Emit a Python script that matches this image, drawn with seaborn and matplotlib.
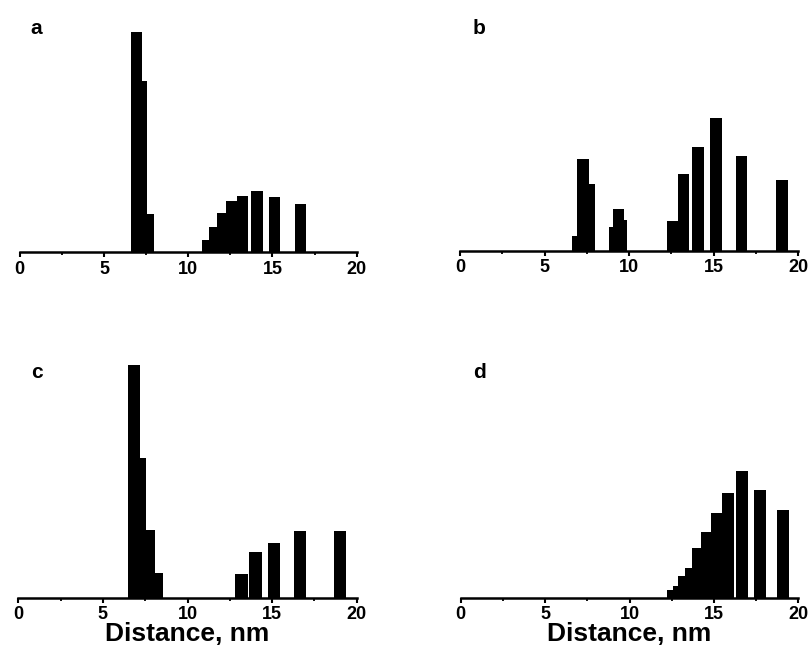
import numpy as np
import pandas as pd
import matplotlib
matplotlib.use("Agg")
import matplotlib.pyplot as plt
import seaborn as sns
from matplotlib.ticker import MultipleLocator

sns.set_style("white")
plt.rcParams['font.family'] = ['Liberation Sans', 'DejaVu Sans']
plt.rcParams['font.weight'] = 'bold'
plt.rcParams['text.color'] = 'black'
plt.rcParams['axes.labelcolor'] = 'black'
plt.rcParams['xtick.color'] = 'black'

# bar edges (nm) and heights (arbitrary counts)
a_left = [6.59, 7.28, 7.54, 10.80, 11.23, 11.69, 12.24, 12.88, 13.71, 14.81, 16.36]
a_right = [7.28, 7.54, 7.97, 11.23, 11.69, 12.24, 12.88, 13.57, 14.42, 15.47, 17.01]
a_height = [220, 171, 38, 12, 25, 39, 51, 56, 61, 55, 48]

b_left = [6.64, 6.93, 7.62, 8.83, 9.06, 9.67, 12.21, 12.87, 13.69, 14.78, 16.29, 18.70]
b_right = [6.93, 7.62, 7.98, 9.06, 9.67, 9.89, 12.87, 13.53, 14.40, 15.47, 16.98, 19.39]
b_height = [15, 92, 67, 24, 42, 31, 30, 77, 104, 133, 95, 71]

c_left = [6.50, 7.19, 7.55, 8.10, 12.83, 13.65, 14.78, 16.28, 18.68]
c_right = [7.19, 7.55, 8.10, 8.55, 13.56, 14.38, 15.48, 17.00, 19.39]
c_height = [233, 140, 68, 25, 24, 46, 55, 67, 67]

d_left = [12.24, 12.56, 12.89, 13.29, 13.72, 14.25, 14.81, 15.50, 16.33, 17.38, 18.72]
d_right = [12.56, 12.89, 13.29, 13.72, 14.25, 14.81, 15.50, 16.19, 17.02, 18.09, 19.43]
d_height = [8, 12, 22, 30, 50, 66, 85, 105, 127, 108, 88]

panels = [
    ("a", a_left, a_right, a_height),
    ("b", b_left, b_right, b_height),
    ("c", c_left, c_right, c_height),
    ("d", d_left, d_right, d_height),
]

W, H = 810, 653
fig = plt.figure(figsize=(W / 100, H / 100), dpi=100)

# axes boxes in pixels: left, right, baseline
boxes = [(19.7, 356.7, 252.3), (460.0, 798.3, 250.7),
         (18.3, 356.7, 597.7), (460.7, 798.3, 597.7)]
label_pos = [(30.7, 33.5), (472.7, 33.5), (30.7, 378.5), (472.7, 378.5)]

for (name, left, right, height), (x0, x1, base), (lx, ly) in zip(panels, boxes, label_pos):
    ax = fig.add_axes([x0 / W, (H - base) / H, (x1 - x0) / W, 240 / H])
    edges = sorted(set(round(v, 3) for v in left + right))
    df = pd.DataFrame({"dist": (np.array(left) + np.array(right)) / 2,
                       "count": height})
    sns.histplot(data=df, x="dist", weights="count", bins=edges, ax=ax,
                 color="black", alpha=1, linewidth=0, edgecolor="none")
    ax.set_xlim(0, 20)
    ax.set_ylim(0, 240)
    ax.set_ylabel("")
    ax.set_yticks([])
    for s in ["top", "right", "left"]:
        ax.spines[s].set_visible(False)
    ax.spines["bottom"].set_linewidth(1.8)
    ax.spines["bottom"].set_color("black")
    ax.xaxis.set_major_locator(MultipleLocator(5))
    ax.xaxis.set_minor_locator(MultipleLocator(2.5))
    ax.tick_params(axis="x", which="major", direction="out", length=3.6, width=1.5,
                   color="black", labelsize=13, labelcolor="black", pad=2.5, bottom=True)
    ax.tick_params(axis="x", which="minor", direction="out", length=2.2, width=1.3,
                   color="black", bottom=True)
    for t in ax.get_xticklabels():
        t.set_fontweight("bold")
    if name in ("c", "d"):
        ax.set_xlabel("Distance, nm", fontsize=19, fontweight="bold", labelpad=-1,
                      color="black")
    else:
        ax.set_xlabel("")
    fig.text(lx / W, 1 - ly / H, name, fontsize=15, fontweight="bold",
             ha="left", va="baseline", color="black")

fig.savefig("out.png", dpi=100)
